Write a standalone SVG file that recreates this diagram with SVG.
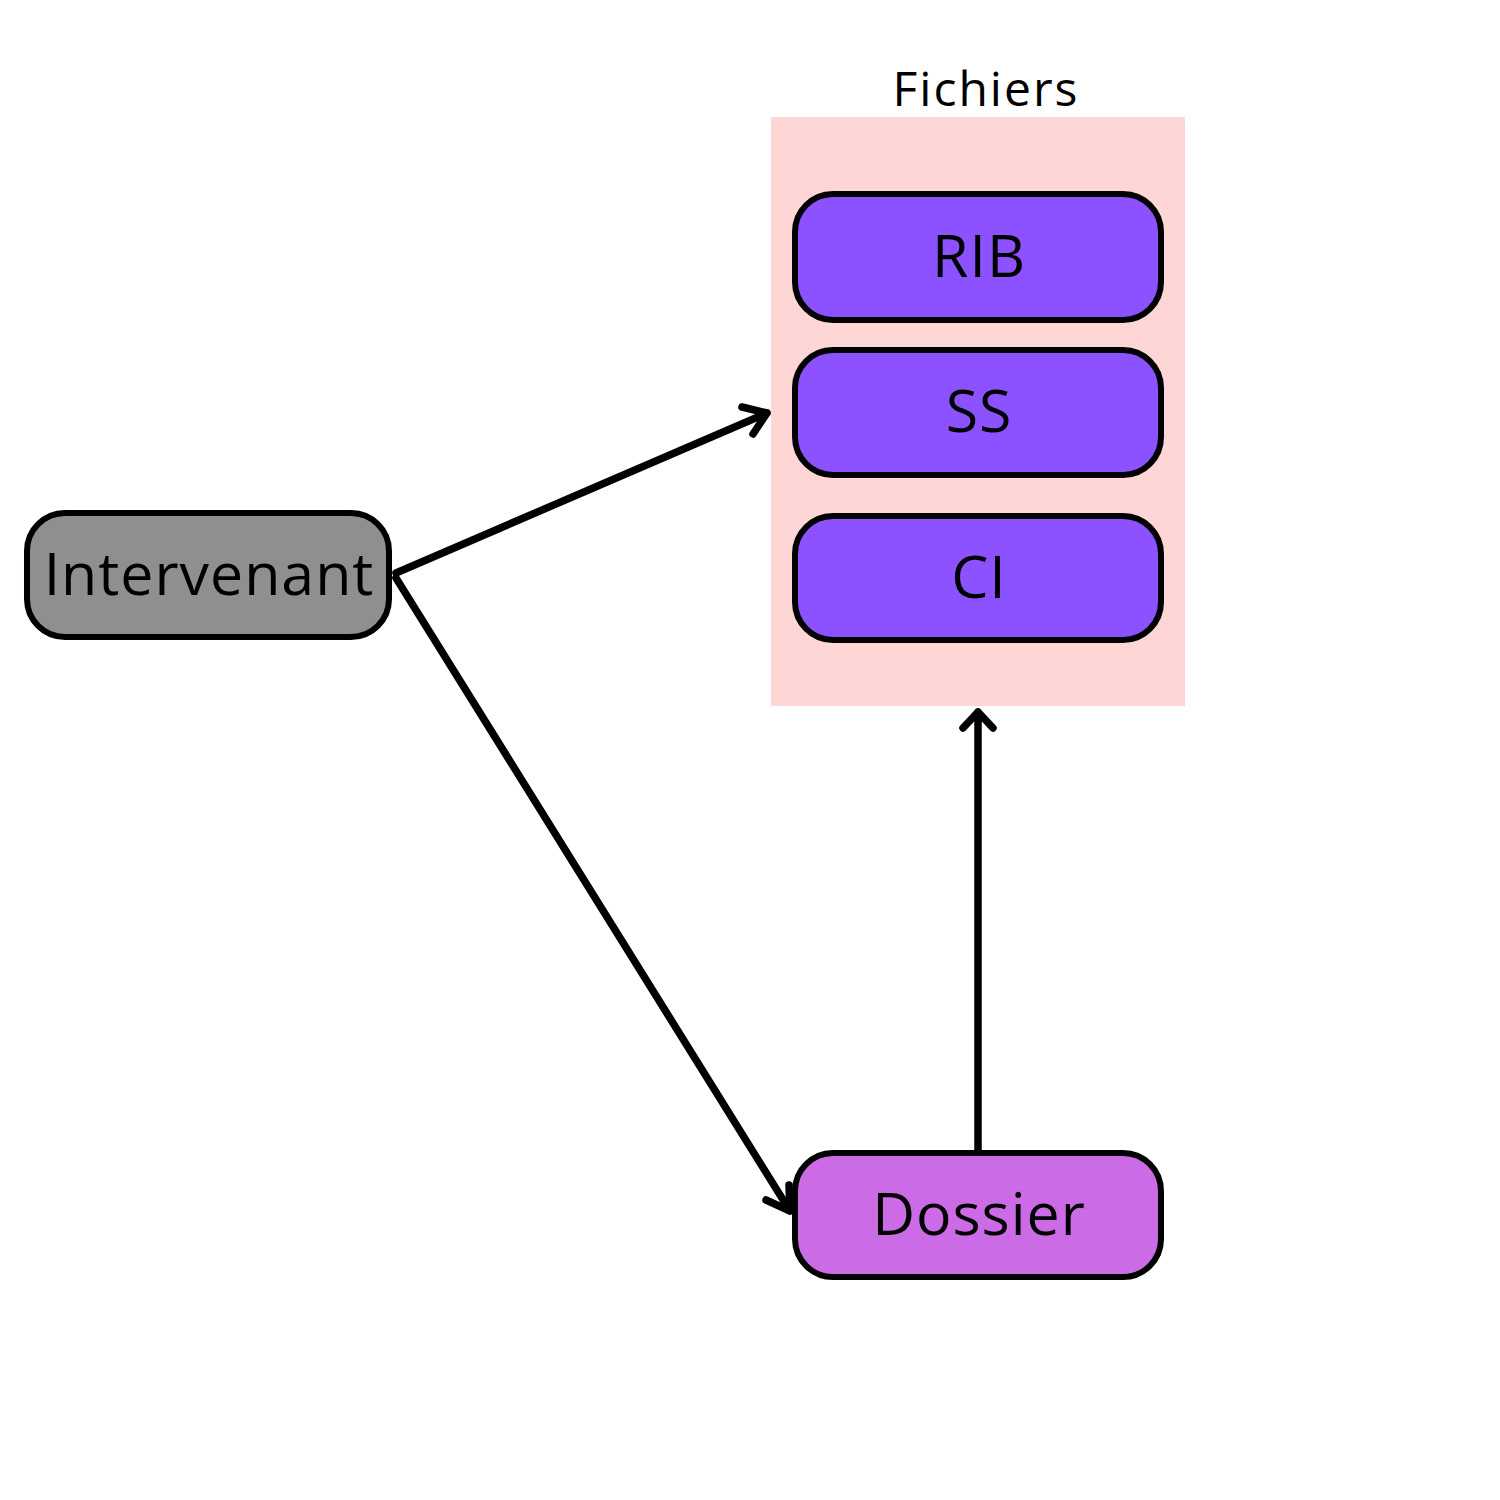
<svg xmlns="http://www.w3.org/2000/svg" width="1500" height="1500" viewBox="0 0 1500 1500">
<style>
.box{stroke:#000;stroke-width:6}
.lbl{font-family:"Open Sans","Liberation Sans",sans-serif;font-size:59px;letter-spacing:1px;fill:#000;text-anchor:middle;dominant-baseline:central}
.conn{fill:none;stroke:#000;stroke-width:7.5;stroke-linecap:round;stroke-linejoin:round}
</style>
<rect width="1500" height="1500" fill="#fff"/>
<g id="fichiers">
<rect x="771" y="117" width="414" height="589" fill="#FFD6D6"/>
<text x="986" y="87" class="lbl" style="font-size:48px;letter-spacing:2px">Fichiers</text>
</g>
<g id="rib">
<rect class="box" x="795" y="194" width="366" height="126" rx="38" fill="#8C52FF"/>
<text x="979" y="254" class="lbl">RIB</text>
</g>
<g id="ss">
<rect class="box" x="795" y="350" width="366" height="125" rx="38" fill="#8C52FF"/>
<text x="979" y="409" class="lbl">SS</text>
</g>
<g id="ci">
<rect class="box" x="795" y="516" width="366" height="124" rx="38" fill="#8C52FF"/>
<text x="979" y="575" class="lbl">CI</text>
</g>
<g id="intervenant">
<rect class="box" x="27" y="513" width="362" height="124" rx="38" fill="#8F8F8F"/>
<text x="209" y="572" class="lbl">Intervenant</text>
</g>
<g id="dossier">
<rect class="box" x="795" y="1153" width="366" height="124" rx="38" fill="#CB6CE6"/>
<text x="979" y="1212" class="lbl">Dossier</text>
</g>
<g id="connectors">
<path class="conn" d="M396 573 L767 413 M742 407 L767 413 L753 434"/>
<path class="conn" d="M396 578 L790 1211 M766 1200 L790 1211 L789 1185"/>
<path class="conn" d="M978 1150 L978 712 M963 728 L978 712 L993 728"/>
</g>
</svg>
